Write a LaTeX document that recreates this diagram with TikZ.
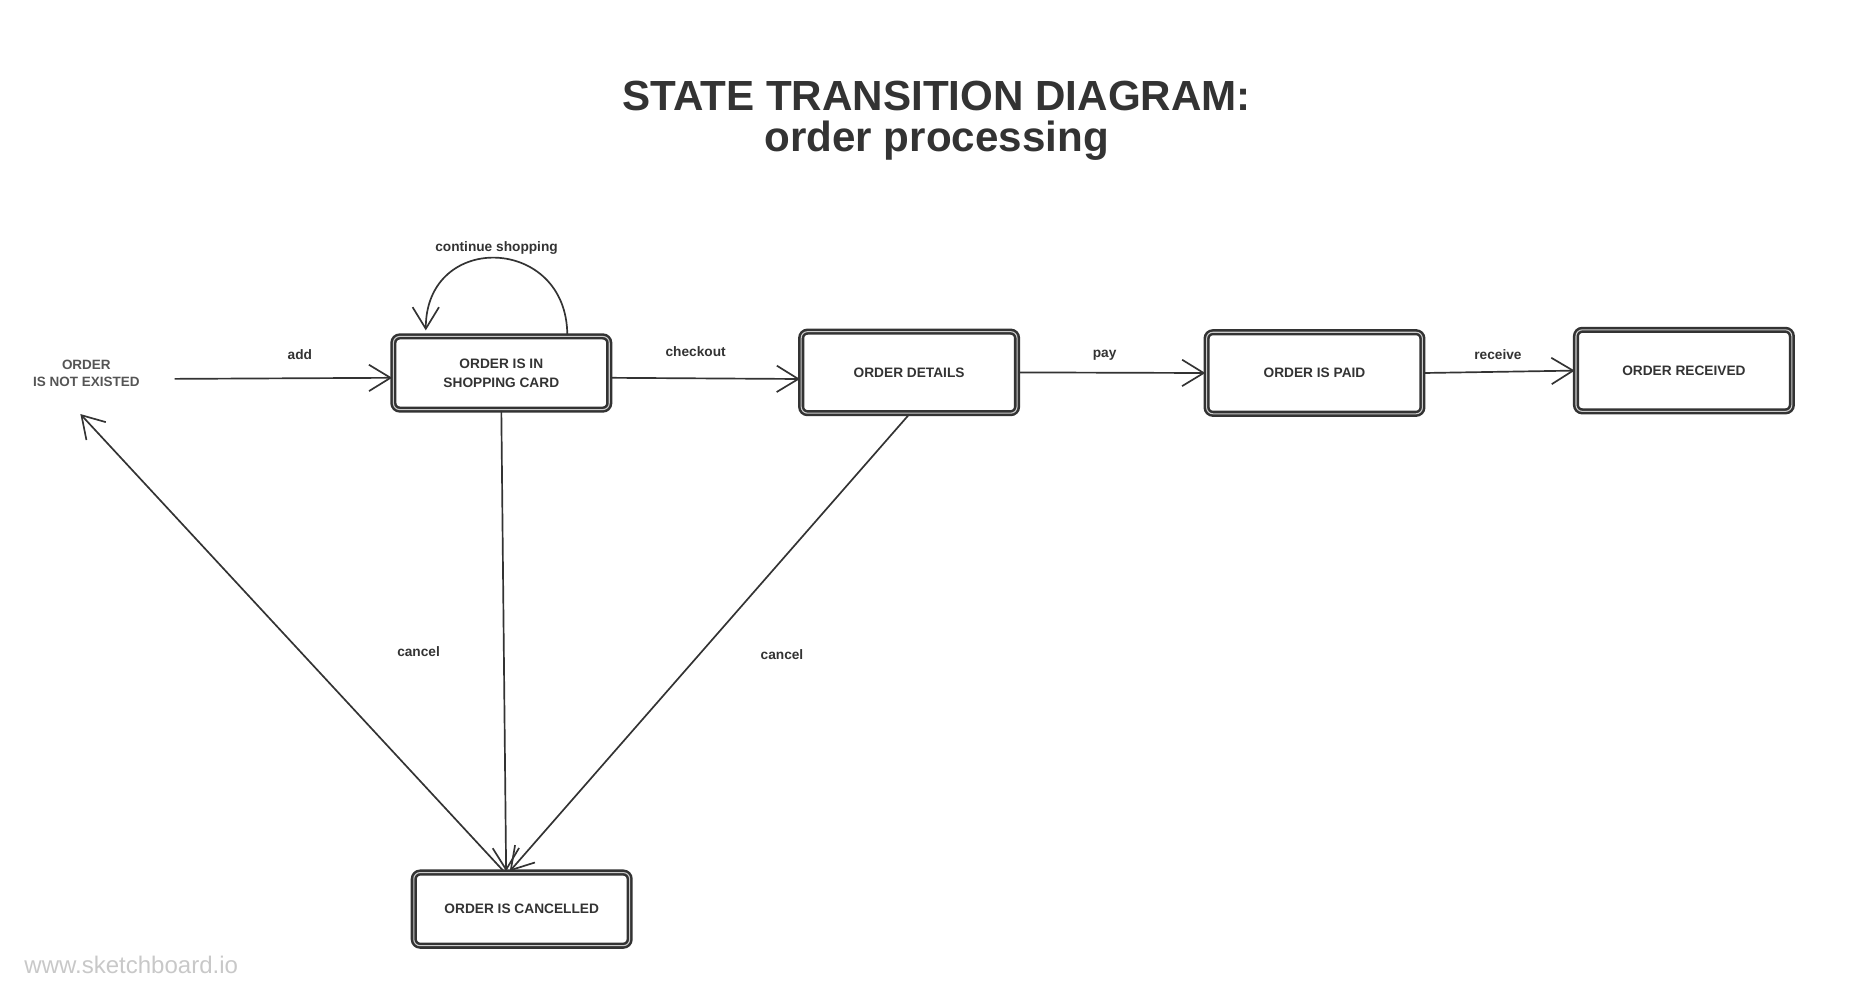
\documentclass[tikz,border=0pt]{standalone}
\usepackage{fontspec}
\setmainfont{Liberation Sans}
\usetikzlibrary{arrows.meta}
\definecolor{ink}{HTML}{333333}
\definecolor{greytext}{HTML}{555555}
\definecolor{faint}{HTML}{C8C8C8}
\tikzset{
  state/.style={draw=ink, line width=1.2pt, double=ink!25, double distance=0.5pt,
    rounded corners=3pt, minimum width=3.6cm, minimum height=1.36cm, align=center,
    text=ink, font=\fontsize{6.5}{9.1}\selectfont\bfseries},
  lbl/.style={text=ink, font=\fontsize{6.5}{8}\selectfont\bfseries, inner sep=0pt},
  trans/.style={draw=ink, line width=0.8pt, ->},
}
\begin{document}
\begin{tikzpicture}[x=0.02cm, y=0.02cm, >={Straight Barb[length=0.36cm, width=0.44cm]}]
    \useasboundingbox (0,0) rectangle (1545,-822);
    % titulo
    \node[anchor=base, text=ink, font=\fontsize{20}{24}\selectfont\bfseries] (ttl1) at (781,-92) {STATE TRANSITION DIAGRAM:};
    \node[anchor=base, text=ink, font=\fontsize{20}{24}\selectfont\bfseries] (ttl2) at (781,-126) {order processing};
    % estados
    \node[align=center, text=greytext, font=\fontsize{6.4}{8}\selectfont\bfseries] (ne) at (72,-311) {ORDER\\IS NOT EXISTED};
    \node[state, minimum height=1.22cm] (sc) at (418,-311) {ORDER IS IN\\SHOPPING CARD};
    \node[state] (od) at (758,-310.5) {ORDER DETAILS};
    \node[state] (paid) at (1096,-311) {ORDER IS PAID};
    \node[state] (rec) at (1404,-309) {ORDER RECEIVED};
    \node[state, minimum height=1.22cm] (can) at (435,-758) {ORDER IS CANCELLED};
    % transiciones
    \draw[trans, shorten <=0.46cm] ([yshift=-0.1cm]ne.east) -- ([yshift=-0.08cm]sc.west);
    \draw[trans] ([yshift=-0.08cm]sc.east) -- ([yshift=-0.11cm]od.west);
    \foreach \a/\b in {od/paid, paid/rec}
    \draw[trans] (\a.east) -- (\b.west);
    % bucle
    \draw[trans] ([xshift=1.1cm]sc.north) to[out=90, in=90, looseness=1.8] ([xshift=-1.26cm, yshift=0.08cm]sc.north);
    % cancelar
    \draw[trans] (sc.south) -- ([xshift=-0.26cm]can.north);
    \draw[trans] (od.south) -- ([xshift=-0.2cm]can.north);
    \draw[trans] ([xshift=-0.3cm]can.north) -- ([xshift=-0.1cm, yshift=-0.34cm]ne.south);
    % etiquetas
    \node[lbl] (ladd) at (250,-296) {add};
    \node[lbl] (lchk) at (580,-293) {checkout};
    \node[lbl] (lpay) at (921,-296) {pay};
    \node[lbl] (lrec) at (1249,-296) {receive};
    \node[lbl] (lloop) at (414,-207) {continue shopping};
    \node[lbl] (lcan1) at (349,-543) {cancel};
    \node[lbl] (lcan2) at (652,-546) {cancel};
    % marca
    \node[anchor=base west, inner sep=0pt, text=faint, font=\fontsize{11.4}{13}\selectfont] (wm) at (20,-812) {www.sketchboard.io};
\end{tikzpicture}
\end{document}
